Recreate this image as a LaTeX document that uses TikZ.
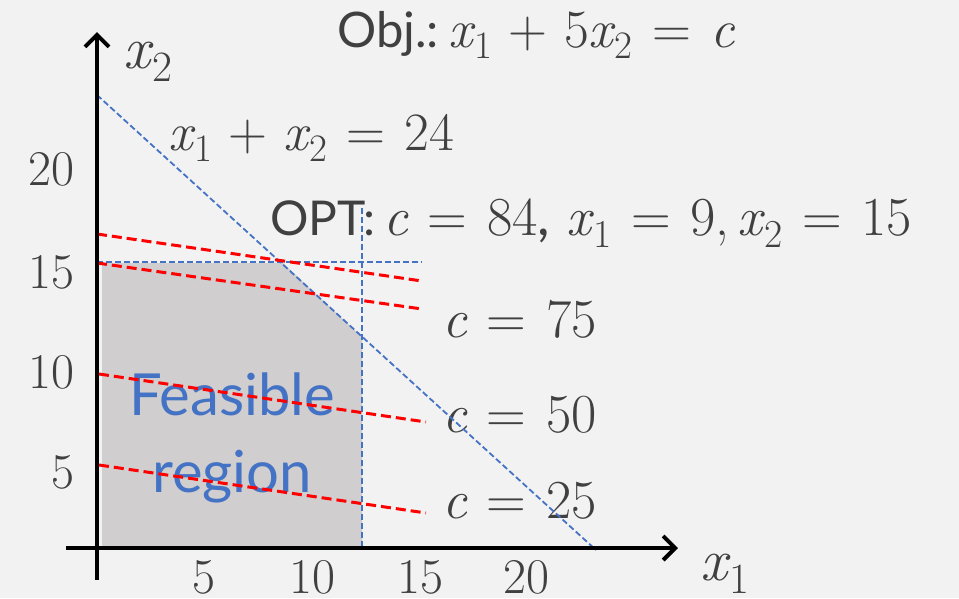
\documentclass[tikz,border=0pt]{standalone}
\usepackage{fontspec}
\newfontfamily\gill{Lato}
\usetikzlibrary{arrows.meta}
\definecolor{txt}{HTML}{404040}
\definecolor{cblue}{HTML}{4472C4}
\definecolor{cred}{HTML}{FF0000}
\definecolor{cgray}{HTML}{D0CECE}
\definecolor{cbg}{HTML}{F2F2F2}
\newcommand\fsz[1]{\fontsize{#1}{#1}\selectfont}
\newcommand\vx[1]{{\itshape x}\kern0.03em\raisebox{-0.22em}{\scalebox{0.72}{#1}}}
\newcommand\vc{{\itshape c}}
\newcommand\bop[1]{\hspace{0.3em}#1\hspace{0.3em}}
\newcommand\rel[1]{\hspace{0.36em}#1\hspace{0.36em}}
\tikzset{
  blueline/.style={draw=cblue, line width=1.8pt, dash pattern=on 6pt off 3pt},
  redline/.style={draw=cred, line width=3pt, dash pattern=on 10pt off 5pt},
  axisline/.style={draw=black, line width=4pt, -{Straight Barb[length=12pt,width=24pt,line width=4pt]}},
  lbl/.style={inner sep=0pt, text=txt, anchor=base west},
  tickx/.style={inner sep=0pt, text=txt, anchor=base, font=\fsz{50}},
  ticky/.style={inner sep=0pt, text=txt, anchor=base east, font=\fsz{50}},
  feas/.style={inner sep=0pt, text=cblue, anchor=base, font=\fsz{58}\gill},
}
\begin{document}
\begin{tikzpicture}[x=1pt,y=-1pt]
\fill[cbg] (0,0) rectangle (959,598);
\useasboundingbox (0,0) rectangle (959,598);
% feasible region
\fill[cgray] (102,548) -- (102,263) -- (283,263) -- (362,337) -- (362,548) -- cycle;
% texts
\node[lbl] (obj) at (337,47) {{\fsz{49}\gill Obj.:}\hspace{10pt}{\fsz{54}\vx{1}\bop{+}5\vx{2}\rel{=}\vc}};
\node[lbl] (ax2) at (123,68) {\fsz{60}\vx{2}};
\node[lbl] (ax1) at (700,580) {\fsz{60}\vx{1}};
\node[lbl] (eq24) at (168,150) {\fsz{54}\vx{1}\bop{+}\vx{2}\rel{=}24};
\node[lbl] (opt) at (270,235) {{\fsz{48}\gill OPT:}\hspace{8pt}{\fsz{55}\vc\rel{=}84{\gill ,}\hspace{0.3em}\vx{1}\rel{=}9,\hspace{0.15em}\vx{2}\rel{=}15}};
\node[lbl] (c75) at (442,337) {\fsz{55}\vc\rel{=}75};
\node[lbl] (c50) at (442,432) {\fsz{55}\vc\rel{=}50};
\node[lbl] (c25) at (442,518) {\fsz{55}\vc\rel{=}25};
\node[feas] (feas1) at (232,415) {Feasible};
\node[feas] (feas2) at (232,492) {region};
\node[ticky] (ty20) at (75,185) {20};
\node[ticky] (ty15) at (75,288) {15};
\node[ticky] (ty10) at (75,388) {10};
\node[ticky] (ty5) at (75,488) {5};
\node[tickx] (tx5) at (204,593) {5};
\node[tickx] (tx10) at (312,593) {10};
\node[tickx] (tx15) at (420,593) {15};
\node[tickx] (tx20) at (526,593) {20};
% coordinates
\coordinate (dA) at (97,95);
\coordinate (dB) at (596,550);
\coordinate (hA) at (97,262);
\coordinate (hB) at (422,262);
\coordinate (vA) at (362,208);
\coordinate (vB) at (362,548);
\coordinate (r1A) at (97,234);
\coordinate (r1B) at (422,281);
\coordinate (r2A) at (97,263);
\coordinate (r2B) at (422,309);
\coordinate (r3A) at (99,374);
\coordinate (r3B) at (426,422);
\coordinate (r4A) at (99,465);
\coordinate (r4B) at (426,513);
\coordinate (xA) at (66,548);
\coordinate (xB) at (678,548);
\coordinate (yA) at (97,580);
\coordinate (yB) at (97,32);
% blue constraint lines
\draw[blueline] (dA) -- (dB);
\draw[blueline] (hA) -- (hB);
\draw[blueline] (vA) -- (vB);
% red objective lines
\draw[redline] (r1A) -- (r1B);
\draw[redline] (r2A) -- (r2B);
\draw[redline] (r3A) -- (r3B);
\draw[redline] (r4A) -- (r4B);
% axes
\draw[axisline] (xA) -- (xB);
\draw[axisline] (yA) -- (yB);
\end{tikzpicture}
\end{document}
